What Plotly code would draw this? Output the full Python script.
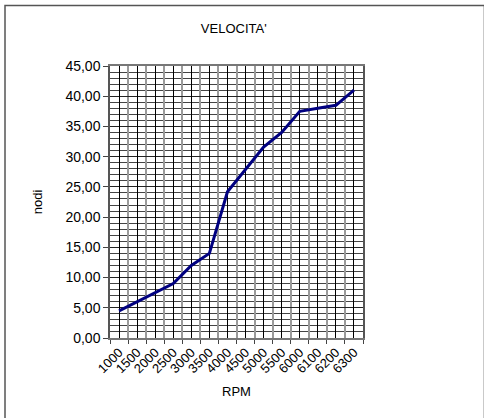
import plotly.graph_objects as go

rpm = ["1000", "1500", "2000", "2500", "3000", "3500", "4000",
       "4500", "5000", "5500", "6000", "6100", "6200", "6300"]
nodi = [4.5, 6.0, 7.5, 9.0, 12.0, 14.0, 24.2,
        28.0, 31.6, 34.0, 37.5, 38.0, 38.5, 41.0]

FONT = "Liberation Sans, Arial, sans-serif"

fig = go.Figure()

# dummy trace so the base category axis (boundary ticks / gray grid) renders
fig.add_trace(go.Scatter(
    x=rpm, y=nodi, xaxis="x", yaxis="y",
    mode="markers", marker=dict(opacity=0), hoverinfo="skip", showlegend=False,
))

# real series on the overlaid axis (black grid at category centres)
fig.add_trace(go.Scatter(
    x=rpm, y=nodi, xaxis="x2", yaxis="y",
    mode="lines", line=dict(color="#000080", width=3), showlegend=False,
))

cat_range = [-0.5, len(rpm) - 0.5]

fig.update_layout(
    width=484, height=418,
    paper_bgcolor="white", plot_bgcolor="white",
    separators=",.",
    margin=dict(l=110, r=121, t=66, b=80),
    font=dict(family=FONT, size=12, color="black"),
    title=dict(text="VELOCITA'", x=0.483, xanchor="center", y=0.933, yanchor="middle",
               font=dict(family=FONT, size=13, color="black")),
    xaxis=dict(
        type="category", categoryorder="array", categoryarray=rpm, range=cat_range,
        tickson="boundaries", ticks="outside", ticklen=4, tickcolor="#444",
        showgrid=True, gridcolor="#9a9a9a", gridwidth=1.5,
        showline=True, linecolor="#777", linewidth=1.5, mirror=True,
        tickangle=-45, tickfont=dict(size=13),
        title=dict(text="RPM", font=dict(size=13), standoff=12),
        zeroline=False, fixedrange=True, automargin=False,
    ),
    xaxis2=dict(
        type="category", categoryorder="array", categoryarray=rpm, range=cat_range,
        overlaying="x", anchor="y", side="bottom",
        showgrid=True, gridcolor="black", gridwidth=1.2,
        showticklabels=False, ticks="", showline=False, zeroline=False,
        automargin=False,
    ),
    yaxis=dict(
        range=[0, 45], dtick=5, tickformat=".2f",
        ticks="outside", ticklen=5, tickcolor="#444",
        showgrid=True, gridcolor="#222", gridwidth=1.2,
        minor=dict(dtick=1, showgrid=True, gridcolor="#444", gridwidth=1),
        showline=True, linecolor="#555", linewidth=1.5, mirror=True,
        tickfont=dict(size=14),
        title=dict(text="nodi", font=dict(size=13), standoff=20),
        zeroline=False, fixedrange=True, automargin=False,
    ),
    shapes=[dict(
        type="rect", xref="paper", yref="paper",
        x0=-0.415, x1=1.48, y0=-0.32, y1=1.222,
        line=dict(color="#555", width=1.5), fillcolor="rgba(0,0,0,0)", layer="below",
    )],
)

# drop the default body margin so the figure sits at the page origin
fig.write_html("out.html", config={"displayModeBar": False},
               post_script="document.body.style.margin='0';")
